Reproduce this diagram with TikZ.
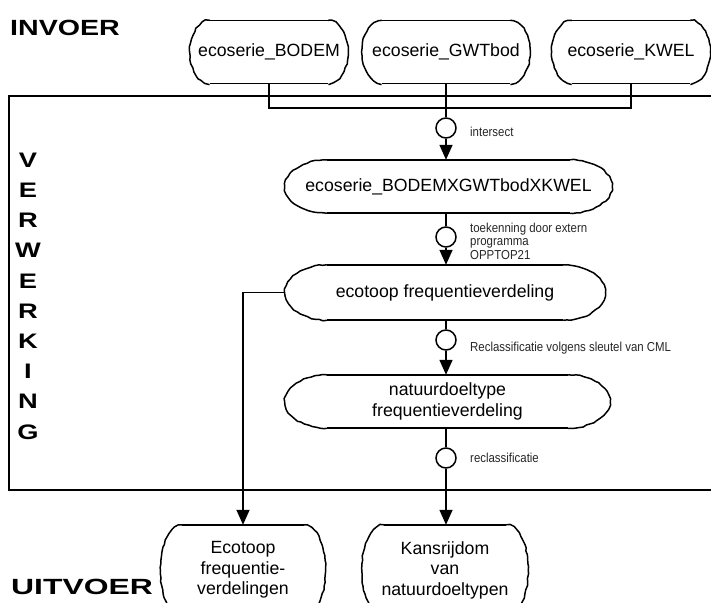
\documentclass[tikz,border=0pt]{standalone}
\usepackage{fontspec}
\setmainfont{Liberation Sans}
\newfontfamily\narrowfont[FakeStretch=0.88]{Liberation Sans}
\newfontfamily\widebold[FakeStretch=1.3]{Liberation Sans Bold}
\newfontfamily\widerbold[FakeStretch=1.45]{Liberation Sans Bold}
\usetikzlibrary{arrows.meta,calc,decorations.pathmorphing}

% Outline with straight top/bottom and bulging, slightly wobbly ends.
% #1 node name, #2 horizontal depth of each end, #3 vertical control offset
\newcommand\capsoutline[3]{%
  \draw[link] ($(#1.north west)+(#2,0)$) -- ($(#1.north east)+(-#2,0)$);
  \draw[link] ($(#1.south west)+(#2,0)$) -- ($(#1.south east)+(-#2,0)$);
  \draw[wob] ($(#1.north east)+(-#2,0)$)
     .. controls ($(#1.north east)+(-0.45*#2,0)$) and ($(#1.east)+(0,-#3)$) .. (#1.east)
     .. controls ($(#1.east)+(0,#3)$) and ($(#1.south east)+(-0.45*#2,0)$) .. ($(#1.south east)+(-#2,0)$);
  \draw[wob] ($(#1.north west)+(#2,0)$)
     .. controls ($(#1.north west)+(0.45*#2,0)$) and ($(#1.west)+(0,-#3)$) .. (#1.west)
     .. controls ($(#1.west)+(0,#3)$) and ($(#1.south west)+(0.45*#2,0)$) .. ($(#1.south west)+(#2,0)$);
}

\begin{document}
\begin{tikzpicture}[x=1pt,y=-1pt,
  lbl/.style={font=\fontsize{17.7}{20.5}\selectfont, align=center, inner sep=0pt},
  inbox/.style={lbl, minimum width=158pt, minimum height=63pt},
  midbox/.style={lbl, minimum width=325pt, minimum height=53pt},
  outbox/.style={lbl, minimum width=165pt, minimum height=90pt},
  ring/.style={circle, draw, line width=1.5pt, minimum size=20pt, inner sep=0pt},
  note/.style={font=\narrowfont\fontsize{13}{13.5}\selectfont, anchor=west, align=left, inner sep=0pt, text=black!85},
  head/.style={font=\widebold\fontsize{21}{21}\selectfont, inner sep=0pt},
  link/.style={line width=1.5pt},
  flow/.style={link, -{Triangle[length=15pt,width=13pt]}},
  wob/.style={line width=1.5pt, decorate, decoration={random steps, segment length=4pt, amplitude=0.6pt}},
  frame/.style={line width=1.8pt}
]
\pgfmathsetseed{3}
\useasboundingbox (0,0) rectangle (711,602);
\clip (0,0) rectangle (711,602);

% processing frame (open to the right)
\draw[frame] (9,96) rectangle (740,490);

% section headings
\node[head, font=\widebold\fontsize{22}{22}\selectfont, anchor=west] (invoer) at (10,28) {INVOER};
\node[head, font=\widerbold\fontsize{22}{22}\selectfont, anchor=west] (uitvoer) at (11,587) {UITVOER};
\foreach \ch [count=\i from 0] in {V,E,R,W,E,R,K,I,N,G}
  \node[head] (vw\i) at (28,160+30.2*\i) {\ch};

% input data sets
\node[inbox] (bodem) at (269,52) {ecoserie\_BODEM};
\node[inbox, minimum width=168pt] (gwt) at (446,52) {ecoserie\_GWTbod};
\node[inbox] (kwel) at (631,52) {ecoserie\_KWEL};
\capsoutline{bodem}{20}{17}
\capsoutline{gwt}{20}{17}
\capsoutline{kwel}{20}{17}

% processing steps
\node[midbox, minimum width=327pt] (bodemx) at (448.5,186.5) {ecoserie\_BODEMXGWTbodXKWEL};
\node[midbox, minimum width=320pt, minimum height=55pt] (ecotoop) at (445,292.5) {ecotoop frequentieverdeling};
\node[midbox] (natuur) at (447.5,401.5) {natuurdoeltype\\frequentieverdeling};
\capsoutline{bodemx}{42}{14}
\capsoutline{ecotoop}{42}{15}
\capsoutline{natuur}{42}{14}

% outputs
\node[outbox] (ecoout) at (243,570) {Ecotoop\\frequentie-\\verdelingen};
\node[outbox, minimum width=166pt] (kans) at (445,570) {Kansrijdom\\van\\natuurdoeltypen};
\capsoutline{ecoout}{22}{26}
\capsoutline{kans}{22}{26}

% operation markers
\node[ring] (r1) at (446,128) {};
\node[ring] (r2) at (446,237) {};
\node[ring] (r3) at (446,340) {};
\node[ring] (r4) at (446,458) {};

\node[note] (t1) at (470,132) {intersect};
\node[note] (t2) at (470,241) {toekenning door extern\\programma\\OPPTOP21};
\node[note] (t3) at (470,348) {Reclassificatie volgens sleutel van CML};
\node[note] (t4) at (470,458) {reclassificatie};

% connectors
\coordinate (bus) at (446,108);
\draw[link] (bodem.south) |- (bus) -| (kwel.south);
\draw[link] (gwt.south) -- (r1.north);
\draw[flow] (r1.south) -- (r1.south |- bodemx.north);
\draw[link] (bodemx.south -| r2) -- (r2.north);
\draw[flow] (r2.south) -- (r2.south |- ecotoop.north);
\draw[link] (ecotoop.south -| r3) -- (r3.north);
\draw[flow] (r3.south) -- (r3.south |- natuur.north);
\draw[link] (natuur.south -| r4) -- (r4.north);
\draw[flow] (r4.south) -- (r4.south |- kans.north);
\draw[flow] (ecotoop.west) -| (ecoout.north);
\end{tikzpicture}
\end{document}
